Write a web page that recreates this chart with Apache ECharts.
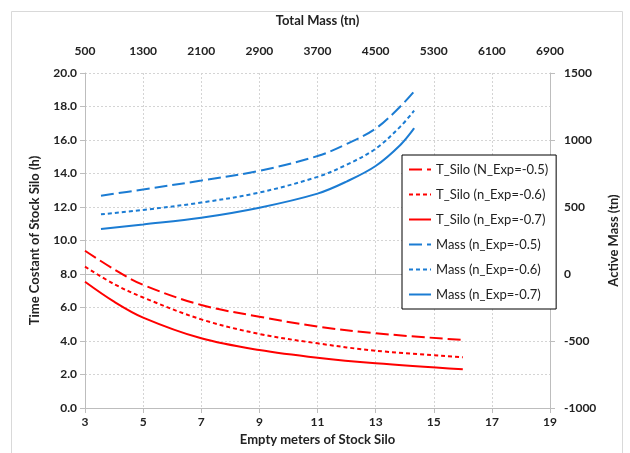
<!DOCTYPE html>
<html>
<head>
<meta charset="utf-8">
<script src="https://cdn.jsdelivr.net/npm/echarts@6/dist/echarts.min.js"></script>
<style>
html, body { margin: 0; padding: 0; background: #fff; }
#chart { width: 630px; height: 453px; }
</style>
</head>
<body>
<div id="chart"></div>
<script>
// empty meters (bottom axis) for the T_Silo curves
const emptyMeters = [3, 4, 5, 7, 9, 11, 13, 16];
const tSilo05 = [9.39, 8.28, 7.35, 6.15, 5.45, 4.86, 4.46, 4.06];
const tSilo06 = [8.44, 7.40, 6.60, 5.29, 4.42, 3.86, 3.42, 3.03];
const tSilo07 = [7.54, 6.35, 5.40, 4.16, 3.46, 3.00, 2.67, 2.31];

// total mass (top axis) for the active mass curves
const totalMass = [720, 1300, 2100, 2900, 3700, 4100, 4500, 4840, 5030];
const mass05 = [584, 631, 697, 770, 880, 970, 1085, 1250, 1363];
const mass06 = [445, 478, 533, 608, 725, 815, 935, 1100, 1219];
const mass07 = [336, 370, 420, 495, 600, 690, 806, 963, 1088];

const names = [
    'T_Silo (N_Exp=-0.5)', 'T_Silo (n_Exp=-0.6)', 'T_Silo (n_Exp=-0.7)',
    'Mass (n_Exp=-0.5)', 'Mass (n_Exp=-0.6)', 'Mass (n_Exp=-0.7)'
];

const RED = '#ff0000';
const BLUE = '#1b7cd3';
const FONT = 'Lato';

function pairs(xs, ys) {
    return xs.map((x, i) => [x, ys[i]]);
}

function line(name, data, color, type, xi, yi) {
    return {
        name: name,
        type: 'line',
        xAxisIndex: xi,
        yAxisIndex: yi,
        data: data,
        smooth: 0.35,
        symbol: 'none',
        lineStyle: { color: color, width: 2, type: type },
        itemStyle: { color: color }
    };
}

const axisLabel = { fontFamily: FONT, fontWeight: 'bold', fontSize: 12, color: '#222', formatter: v => String(v) };
const axisName = { fontFamily: FONT, fontWeight: 'bold', fontSize: 13, color: '#222' };
const axisLine = { show: true, lineStyle: { color: '#bdbdbd', width: 1 } };
const axisTick = { show: true, lineStyle: { color: '#bdbdbd' } };
const gridLine = { show: true, lineStyle: { color: '#d4d4d4', type: [2, 2], width: 1 } };

let chart = echarts.init(document.getElementById('chart'));
chart.setOption({
    animation: false,
    backgroundColor: '#fff',
    graphic: [{
        type: 'rect',
        shape: { x: 11.5, y: 11.5, width: 611, height: 452 },
        style: { fill: 'none', stroke: '#d9d9d9', lineWidth: 1 },
        silent: true
    }],
    grid: { left: 85, right: 80, top: 73, bottom: 45 },
    legend: {
        orient: 'vertical',
        left: 402,
        top: 155,
        data: names,
        itemWidth: 22,
        itemHeight: 12,
        itemGap: 12,
        padding: [8, 8, 8, 6],
        borderColor: '#000',
        borderWidth: 1,
        backgroundColor: '#fff',
        itemStyle: { opacity: 0 },
        textStyle: { fontFamily: FONT, fontSize: 13, color: '#222' }
    },
    xAxis: [
        {
            type: 'value', position: 'bottom', min: 3, max: 19, interval: 2,
            name: 'Empty meters of Stock Silo', nameLocation: 'middle', nameGap: 18,
            nameTextStyle: axisName,
            axisLine: axisLine, axisTick: axisTick,
            axisLabel: axisLabel, splitLine: gridLine
        },
        {
            type: 'value', position: 'top', min: 500, max: 6900, interval: 800,
            name: 'Total Mass (tn)', nameLocation: 'middle', nameGap: 46,
            nameTextStyle: axisName,
            axisLine: axisLine, axisTick: axisTick,
            axisLabel: Object.assign({}, axisLabel, { margin: 16 }), splitLine: { show: false }
        }
    ],
    yAxis: [
        {
            type: 'value', position: 'left', min: 0, max: 20, interval: 2,
            name: 'Time Costant of Stock Silo (h)', nameLocation: 'middle', nameGap: 44,
            nameTextStyle: axisName,
            axisLine: axisLine, axisTick: axisTick,
            axisLabel: Object.assign({}, axisLabel, { formatter: v => v.toFixed(1) }),
            splitLine: gridLine
        },
        {
            type: 'value', position: 'right', min: -1000, max: 1500, interval: 500,
            name: 'Active Mass (tn)', nameLocation: 'middle', nameGap: 56, nameRotate: 90,
            nameTextStyle: axisName,
            axisLine: axisLine, axisTick: axisTick,
            axisLabel: Object.assign({}, axisLabel, { margin: 14 }), splitLine: { show: false }
        }
    ],
    series: [
        line(names[0], pairs(emptyMeters, tSilo05), RED, [13, 5], 0, 0),
        line(names[1], pairs(emptyMeters, tSilo06), RED, [4, 3], 0, 0),
        line(names[2], pairs(emptyMeters, tSilo07), RED, 'solid', 0, 0),
        line(names[3], pairs(totalMass, mass05), BLUE, [13, 5], 1, 1),
        line(names[4], pairs(totalMass, mass06), BLUE, [4, 3], 1, 1),
        line(names[5], pairs(totalMass, mass07), BLUE, 'solid', 1, 1)
    ]
});
</script>
</body>
</html>
